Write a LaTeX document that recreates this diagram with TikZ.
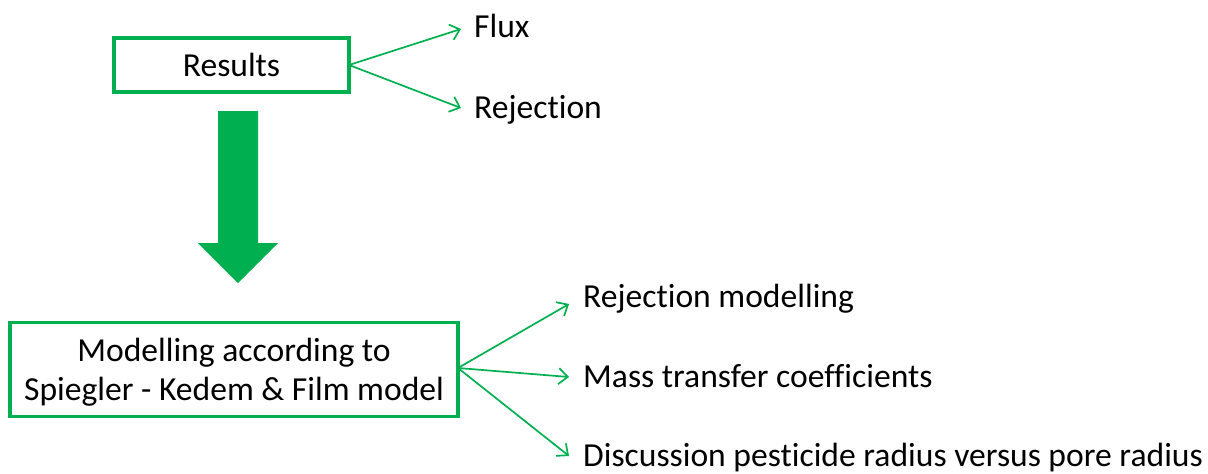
\documentclass[tikz,border=0pt]{standalone}
\usepackage{fontspec}
\setmainfont{Carlito}[Ligatures=NoCommon]
\usetikzlibrary{arrows.meta}
\definecolor{offgreen}{HTML}{00B050}
\begin{document}
\begin{tikzpicture}[x=1pt,y=-1pt,
  box/.style={draw=offgreen,line width=3.2pt,fill=white,inner sep=0pt},
  txt/.style={anchor=base,inner sep=0pt,font=\fontsize{33.6}{39}\selectfont},
  lbl/.style={anchor=base west,inner sep=0pt,font=\fontsize{33.6}{39}\selectfont},
  conn/.style={draw=offgreen,line width=1.7pt,-{Straight Barb[length=9pt,width=16pt,line width=1.7pt]}}]
\useasboundingbox (0,0) rectangle (1208,474);
% Results box
\node[box,minimum width=235pt,minimum height=54pt] (res) at (231.5,65) {};
\node[txt] (restxt) at (231.5,76) {Results};
% Modelling box
\node[box,minimum width=448pt,minimum height=94pt] (mod) at (234,369.5) {};
\node[txt] (modtxt1) at (234,361) {Modelling according to};
\node[txt] (modtxt2) at (234,400) {Spiegler - Kedem \& Film model};
% labels
\node[lbl] (flux) at (474,37) {Flux};
\node[lbl] (rej) at (474,118) {Rejection};
\node[lbl] (rm) at (583,307) {Rejection modelling};
\node[lbl] (mt) at (583,387) {Mass transfer coefficients};
\node[lbl] (dp) at (583,466) {Discussion pesticide radius versus pore radius};
% connector endpoints
\coordinate (ro) at (349,65);
\coordinate (mo) at (458,368);
\coordinate (t1) at (461,29);
\coordinate (t2) at (461,108);
\coordinate (t3) at (569,304);
\coordinate (t4) at (569,377);
\coordinate (t5) at (569,456);
\draw[conn] (ro) -- (t1);
\draw[conn] (ro) -- (t2);
\draw[conn] (mo) -- (t3);
\draw[conn] (mo) -- (t4);
\draw[conn] (mo) -- (t5);
% big arrow
\fill[offgreen] (218,111) -- (258,111) -- (258,243) -- (278,243) -- (238,283) -- (198,243) -- (218,243) -- cycle;
\end{tikzpicture}
\end{document}
